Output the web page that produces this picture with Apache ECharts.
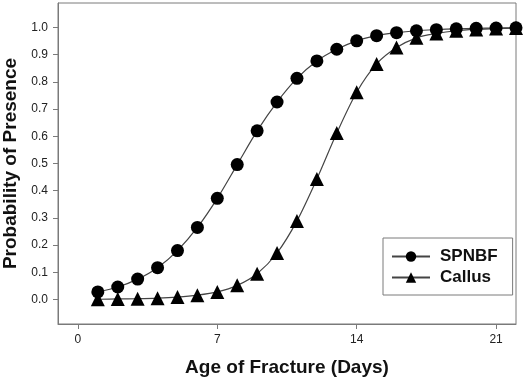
<!DOCTYPE html>
<html>
<head>
<meta charset="utf-8">
<script src="https://cdn.jsdelivr.net/npm/echarts@6/dist/echarts.min.js"></script>
<style>
  html, body { margin: 0; padding: 0; background: #fff; }
  #chart { width: 525px; height: 380px; }
</style>
</head>
<body>
<div id="chart"></div>
<script>
const days = [1, 2, 3, 4, 5, 6, 7, 8, 9, 10, 11, 12, 13, 14, 15, 16, 17, 18, 19, 20, 21, 22];
const spnbf = [0.028, 0.046, 0.075, 0.117, 0.18, 0.265, 0.372, 0.496, 0.62, 0.726, 0.813, 0.877, 0.92, 0.951, 0.97, 0.981, 0.988, 0.992, 0.995, 0.997, 0.998, 0.999];
const callus = [0.001, 0.002, 0.003, 0.005, 0.009, 0.016, 0.028, 0.052, 0.095, 0.171, 0.289, 0.443, 0.612, 0.762, 0.866, 0.926, 0.962, 0.978, 0.988, 0.993, 0.996, 0.998];
const xTicks = [0, 7, 14, 21];
const yTicks = [0, 0.1, 0.2, 0.3, 0.4, 0.5, 0.6, 0.7, 0.8, 0.9, 1.0];

const font = '"Liberation Sans", Arial, sans-serif';
const chart = echarts.init(document.getElementById('chart'), null, { renderer: 'canvas' });
const pairs = (ys) => days.map((d, i) => [d, ys[i]]);

chart.setOption({
  animation: false,
  backgroundColor: '#ffffff',
  grid: {
    left: 58, right: 9, top: 3, bottom: 56,
    containLabel: false,
    outerBoundsMode: 'none',
    show: true, borderColor: '#7a7a7a', borderWidth: 1, backgroundColor: 'transparent'
  },
  legend: {
    orient: 'vertical',
    left: 383, top: 238,
    padding: [10, 15, 9, 8],
    itemGap: 4,
    itemWidth: 38,
    itemHeight: 13,
    borderColor: '#7a7a7a', borderWidth: 1,
    textStyle: { fontFamily: font, fontWeight: 'bold', fontSize: 17, color: '#111', padding: [0, 0, 0, 5] },
    data: ['SPNBF', 'Callus']
  },
  xAxis: {
    type: 'value',
    min: -1, max: 22,
    name: 'Age of Fracture (Days)',
    nameLocation: 'middle',
    nameGap: 34,
    nameTextStyle: { fontFamily: font, fontWeight: 'bold', fontSize: 19, color: '#111' },
    axisLine: { show: true, onZero: false, lineStyle: { color: '#7a7a7a', width: 1 } },
    axisTick: { show: true, length: 5, customValues: xTicks, lineStyle: { color: '#7a7a7a' } },
    axisLabel: { customValues: xTicks, fontFamily: font, fontSize: 12, color: '#222', margin: 10 },
    splitLine: { show: false }
  },
  yAxis: {
    type: 'value',
    min: -0.09, max: 1.09,
    name: 'Probability of Presence',
    nameLocation: 'middle',
    nameGap: 33,
    nameTextStyle: { fontFamily: font, fontWeight: 'bold', fontSize: 19, color: '#111' },
    axisLine: { show: true, onZero: false, lineStyle: { color: '#7a7a7a', width: 1 } },
    axisTick: { show: true, length: 5, customValues: yTicks, lineStyle: { color: '#7a7a7a' } },
    axisLabel: {
      customValues: yTicks, fontFamily: font, fontSize: 12, color: '#222', margin: 10,
      formatter: (v) => Number(v).toFixed(1)
    },
    splitLine: { show: false }
  },
  series: [
    {
      name: 'SPNBF', type: 'line', data: pairs(spnbf), smooth: 0.3,
      symbol: 'circle', symbolSize: 13,
      lineStyle: { color: '#444', width: 1.2 },
      itemStyle: { color: '#000' }
    },
    {
      name: 'Callus', type: 'line', data: pairs(callus), smooth: 0.3,
      symbol: 'triangle', symbolSize: 14,
      lineStyle: { color: '#444', width: 1.2 },
      itemStyle: { color: '#000' }
    }
  ]
});
</script>
</body>
</html>
